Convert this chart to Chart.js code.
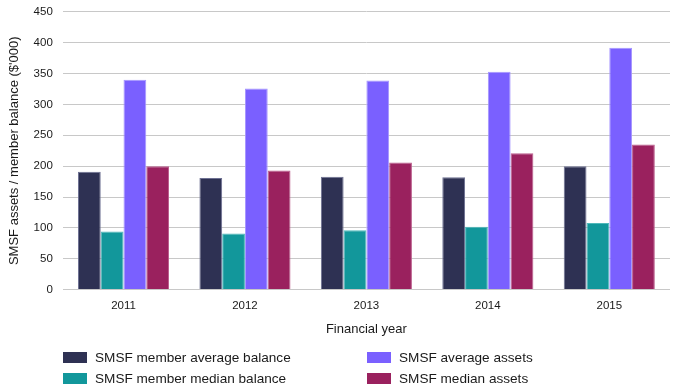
<!DOCTYPE html>
<html>
<head>
<meta charset="utf-8">
<script src="https://cdn.jsdelivr.net/npm/chart.js@4.4.1/dist/chart.umd.min.js"></script>
<style>
  html, body { margin: 0; padding: 0; background: #fff; overflow: hidden; }
  #wrap { position: relative; width: 689px; height: 390px; overflow: hidden; font-family: "Liberation Sans", Arial, sans-serif; }
  #c { position: absolute; left: 0; top: -5px; }
  #legend { position: absolute; left: 0; top: 0; width: 689px; height: 390px; pointer-events: none; }
  .item { position: absolute; display: flex; align-items: center; font-size: 13.6px; color: #1a1a1a; white-space: nowrap; }
  .box { width: 24px; height: 11px; margin-right: 8px; }
</style>
</head>
<body>
<div id="wrap">
  <canvas id="c" width="689" height="395"></canvas>
  <div id="legend"></div>
</div>
<script>
// financial years
const years = ['2011', '2012', '2013', '2014', '2015']

// $'000
const memberAvgBalance = [191, 181, 183, 182, 200]
const memberMedianBalance = [94, 91, 96, 102, 108]
const avgAssets = [340, 326, 339, 353, 392]
const medianAssets = [200, 193, 206, 221, 235]

const seriesNames = ['SMSF member average balance', 'SMSF member median balance', 'SMSF average assets', 'SMSF median assets']
const seriesColors = ['#2e3153', '#12979b', '#7a60ff', '#9a215e']
const seriesEdges = ['#6d7092', '#4fb8ba', '#a595ff', '#bb5c8c']

const font = '"Liberation Sans", Arial, sans-serif'

let values = [memberAvgBalance, memberMedianBalance, avgAssets, medianAssets]
let datasets = values.map(function(v, i) {
    return {
        label: seriesNames[i],
        data: v,
        backgroundColor: seriesColors[i],
        borderColor: seriesEdges[i],
        borderWidth: 1,
        categoryPercentage: 0.75,
        barPercentage: 1
    }
})

var myChart = new Chart(document.getElementById('c'), {
    type: 'bar',
    data: { labels: years, datasets: datasets },
    options: {
        responsive: false,
        animation: false,
        layout: { padding: { left: 3, right: 19, top: 0, bottom: 49 } },
        plugins: {
            legend: { display: false },
            tooltip: { enabled: false }
        },
        scales: {
            x: {
                grid: { display: false, drawTicks: false },
                border: { display: false },
                ticks: { color: '#1a1a1a', font: { family: font, size: 11.5 }, padding: 9 },
                title: { display: true, text: 'Financial year', color: '#1a1a1a', font: { family: font, size: 13 }, padding: { top: 0, bottom: 4 } }
            },
            y: {
                min: 0,
                max: 450,
                ticks: { stepSize: 50, color: '#1a1a1a', font: { family: font, size: 11.5 }, padding: 10 },
                grid: { color: '#c8c8c8', lineWidth: 1, drawTicks: false },
                border: { display: false },
                title: { display: true, text: "SMSF assets / member balance ($'000)", color: '#1a1a1a', font: { family: font, size: 13 }, padding: { top: 4, bottom: 1 } }
            }
        }
    }
})

// legend in two columns, like the original
let legend = document.getElementById('legend')
datasets.forEach(function(d, i) {
    let col = i < 2 ? 0 : 1
    let row = i % 2
    let el = document.createElement('div')
    el.className = 'item'
    el.style.left = (col == 0 ? 63 : 367) + 'px'
    el.style.top = (row == 0 ? 347 : 368) + 'px'
    el.style.height = '20px'
    let box = document.createElement('span')
    box.className = 'box'
    box.style.background = d.backgroundColor
    let txt = document.createElement('span')
    txt.textContent = d.label
    el.appendChild(box)
    el.appendChild(txt)
    legend.appendChild(el)
})
</script>
</body>
</html>
